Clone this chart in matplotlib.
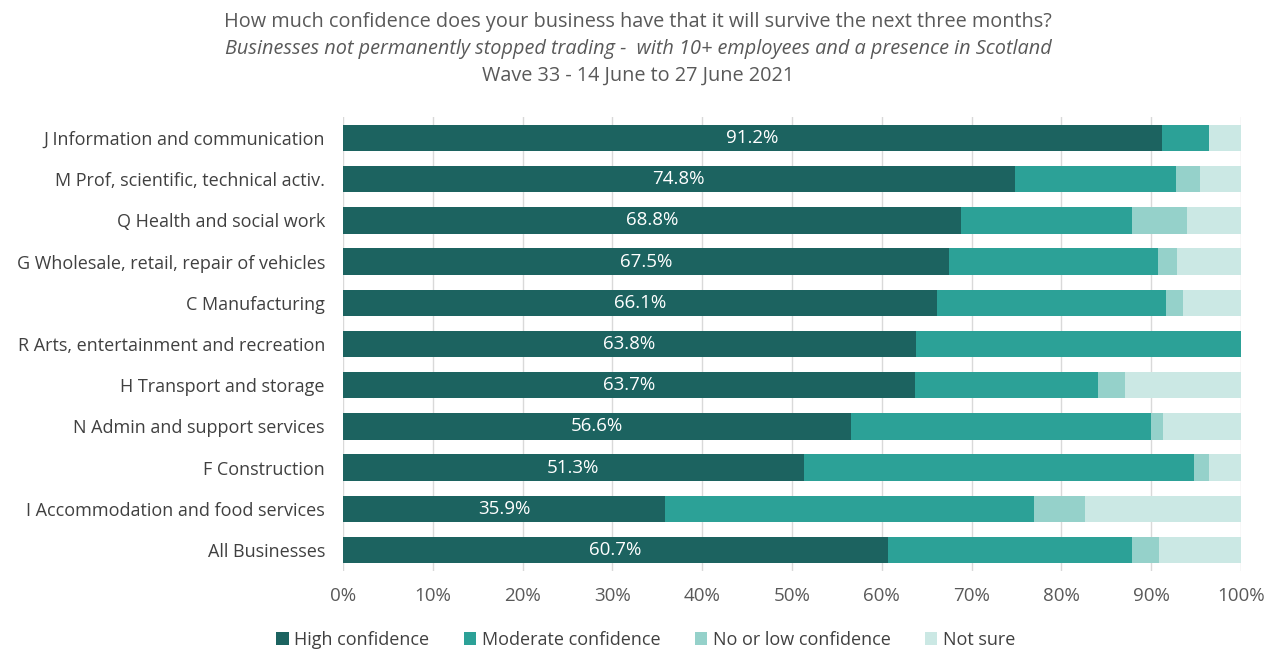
import matplotlib
matplotlib.use("Agg")
import matplotlib.pyplot as plt
from matplotlib.ticker import FuncFormatter
import numpy as np

plt.rcParams['font.family'] = ['Open Sans', 'DejaVu Sans']

categories = [
    "J Information and communication",
    "M Prof, scientific, technical activ.",
    "Q Health and social work",
    "G Wholesale, retail, repair of vehicles",
    "C Manufacturing",
    "R Arts, entertainment and recreation",
    "H Transport and storage",
    "N Admin and support services",
    "F Construction",
    "I Accommodation and food services",
    "All Businesses",
]
high = [91.2, 74.8, 68.8, 67.5, 66.1, 63.8, 63.7, 56.6, 51.3, 35.9, 60.7]
moderate = [5.2, 18.0, 19.1, 23.2, 25.5, 36.2, 20.4, 33.4, 43.5, 41.1, 27.2]
low = [0.0, 2.6, 6.1, 2.2, 1.9, 0.0, 3.0, 1.3, 1.6, 5.6, 3.0]
not_sure = [3.6, 4.6, 6.0, 7.1, 6.5, 0.0, 12.9, 8.7, 3.6, 17.4, 9.1]

series_names = ["High confidence", "Moderate confidence", "No or low confidence", "Not sure"]
colors = ["#1C6360", "#2CA197", "#95D1CA", "#CBE8E4"]
xticks = [0, 10, 20, 30, 40, 50, 60, 70, 80, 90, 100]

fig = plt.figure(figsize=(12.76, 6.49), dpi=100)
ax = fig.add_axes([0.2688, 0.1208, 0.7038, 0.6982])

y = np.arange(len(categories))
left = np.zeros(len(categories))
for vals, name, col in zip([high, moderate, low, not_sure], series_names, colors):
    v = np.array(vals)
    ax.barh(y, v, left=left, height=0.64, color=col, label=name, zorder=3)
    left += v

for yi, h in zip(y, high):
    ax.text(h / 2, yi, f"{h:.1f}%", ha="center", va="center", color="white",
            fontsize=13.5, zorder=4)

ax.set_xlim(0, 100)
ax.set_ylim(len(categories) - 0.5, -0.5)
ax.set_yticks(y)
ax.set_yticklabels(categories, fontsize=13, color="#404040")
ax.set_xticks(xticks)
ax.xaxis.set_major_formatter(FuncFormatter(lambda v, p: f"{v:.0f}%"))
ax.tick_params(axis="x", labelsize=13.5, colors="#595959", length=0, pad=12)
ax.tick_params(axis="y", length=0, pad=13)
ax.grid(axis="x", color="#D9D9D9", linewidth=1, zorder=0)
for s in ax.spines.values():
    s.set_visible(False)

fig.text(0.5, 1 - 22 / 649, "How much confidence does your business have that it will survive the next three months?",
         ha="center", va="center", fontsize=14.3, color="#595959")
fig.text(0.5, 1 - 49 / 649, "Businesses not permanently stopped trading -  with 10+ employees and a presence in Scotland",
         ha="center", va="center", fontsize=14.3, color="#595959", style="italic")
fig.text(0.5, 1 - 76 / 649, "Wave 33 - 14 June to 27 June 2021",
         ha="center", va="center", fontsize=14.3, color="#595959")

leg = fig.legend(loc="center", bbox_to_anchor=(0.506, 1 - 640 / 649), ncol=4, frameon=False,
                 fontsize=13, handlelength=0.7, handleheight=0.7, handletextpad=0.3,
                 columnspacing=1.9)
for t in leg.get_texts():
    t.set_color("#404040")

fig.savefig("out.png", dpi=100)
